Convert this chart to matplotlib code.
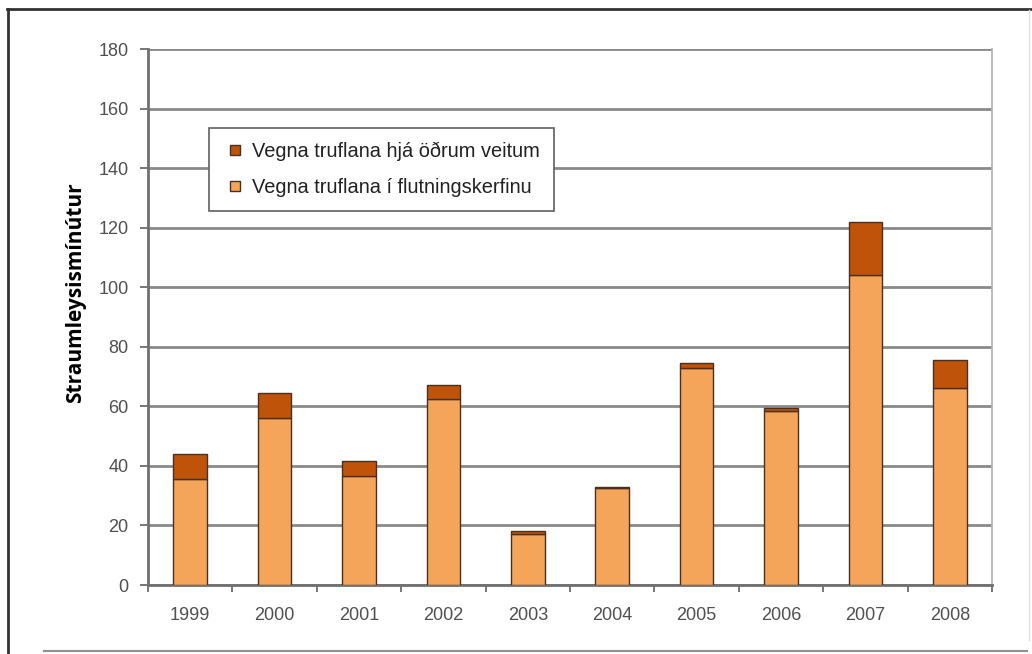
import numpy as np
import matplotlib.pyplot as plt
from matplotlib.lines import Line2D

years = ['1999', '2000', '2001', '2002', '2003', '2004', '2005', '2006', '2007', '2008']
# minutes of outage caused in the transmission grid
grid_minutes = [35.5, 56, 36.5, 62.5, 17, 32.5, 73, 58.5, 104, 66]
# minutes of outage caused by other utilities
other_minutes = [8.5, 8.5, 5, 4.5, 1, 0.3, 1.5, 0.8, 18, 9.5]

label_other = 'Vegna truflana hjá öðrum veitum'
label_grid = 'Vegna truflana í flutningskerfinu'

color_grid = '#f5a55a'
color_other = '#c0530a'
edge = '#4a3020'
grid_color = '#8a8a8a'
text_gray = '#505050'

fig = plt.figure(figsize=(10.32, 6.54), dpi=100)
ax = fig.add_axes([148 / 1032, 69 / 654, 844 / 1032, 536 / 654])

ind = np.arange(len(years))
width = 0.4
ax.bar(ind, grid_minutes, width, color=color_grid, edgecolor=edge,
       linewidth=1.0, label=label_grid, zorder=3)
ax.bar(ind, other_minutes, width, bottom=grid_minutes, color=color_other,
       edgecolor=edge, linewidth=1.0, label=label_other, zorder=3)

ax.set_xlim(-0.5, len(years) - 0.5)
ax.set_ylim(0, 180)
ax.set_yticks(np.arange(0, 181, 20))
ax.yaxis.grid(True, color=grid_color, linewidth=2.0, zorder=0)
ax.set_axisbelow(True)

# category ticks sit between the bars, labels under each bar
ax.set_xticks(ind)
ax.set_xticklabels(years)
ax.set_xticks(np.arange(-0.5, len(years), 1), minor=True)
ax.tick_params(axis='x', which='major', length=0, pad=16,
               labelsize=13, labelcolor=text_gray)
ax.tick_params(axis='x', which='minor', length=5, width=1.2, color='#606060')
ax.tick_params(axis='y', length=6, width=1.2, color='#606060', pad=8,
               labelsize=13, labelcolor=text_gray)
for lab in ax.get_xticklabels() + ax.get_yticklabels():
    lab.set_family('Liberation Sans')

ax.spines['top'].set_visible(False)
ax.spines['right'].set_color('#b0b0b0')
ax.spines['right'].set_linewidth(1.2)
ax.spines['left'].set_color('#707070')
ax.spines['left'].set_linewidth(2.0)
ax.spines['bottom'].set_color('#707070')
ax.spines['bottom'].set_linewidth(2.0)

ax.set_ylabel('Straumleysismínútur', fontsize=15, fontweight='bold',
              family='Open Sans', color='black')
ax.yaxis.set_label_coords(-0.073, 0.546)

handles = [
    Line2D([], [], marker='s', linestyle='none', markersize=7,
           markerfacecolor=color_other, markeredgecolor=edge, label=label_other),
    Line2D([], [], marker='s', linestyle='none', markersize=7,
           markerfacecolor=color_grid, markeredgecolor=edge, label=label_grid),
]
leg = ax.legend(handles=handles, loc='upper left',
                bbox_to_anchor=(0.072, 0.853), borderaxespad=0,
                frameon=True, fancybox=False,
                edgecolor='#606060', framealpha=1, handletextpad=0.25,
                borderpad=0.7, labelspacing=0.85, handlelength=1.2,
                prop={'family': 'Liberation Sans', 'size': 14.4})
leg.get_frame().set_linewidth(1.2)
for t in leg.get_texts():
    t.set_color('#222222')

# page frame around the chart
fig.add_artist(Line2D([7 / 1032, 1.0], [1 - 8.5 / 654] * 2,
                      transform=fig.transFigure, color='#333333', linewidth=2))
fig.add_artist(Line2D([7.5 / 1032] * 2, [0, 1 - 8.5 / 654],
                      transform=fig.transFigure, color='#333333', linewidth=2))
fig.add_artist(Line2D([44 / 1032, 1027 / 1032], [1 - 651 / 654] * 2,
                      transform=fig.transFigure, color='#909090', linewidth=1.5))
fig.add_artist(Line2D([1029 / 1032] * 2, [1 - 10 / 654, 1 - 640 / 654],
                      transform=fig.transFigure, color='#e0e0e0', linewidth=1))

fig.savefig('out.png', dpi=100)
